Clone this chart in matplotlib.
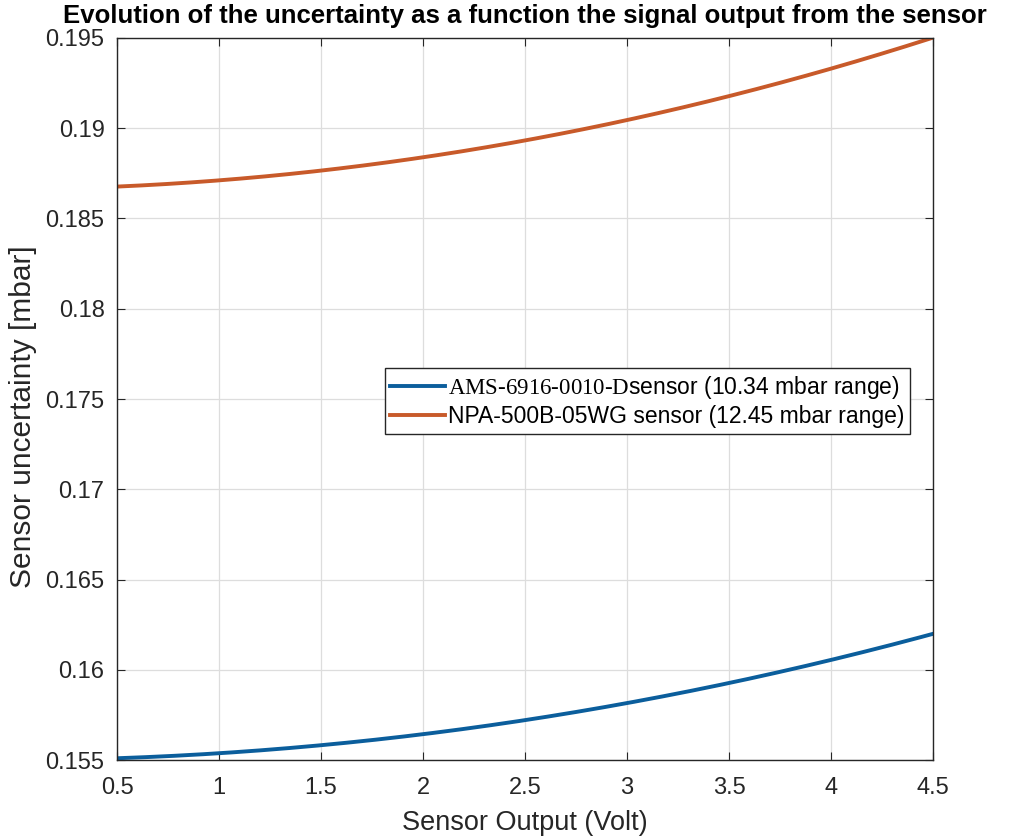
import matplotlib.pyplot as plt
import numpy as np

plt.rcParams['font.family'] = ['Liberation Sans', 'DejaVu Sans']
plt.rcParams['mathtext.fontset'] = 'custom'
plt.rcParams['mathtext.rm'] = 'Liberation Serif'

volts = [0.5, 1.0, 1.5, 2.0, 2.5, 3.0, 3.5, 4.0, 4.5]
ams_unc = [0.1551, 0.1554, 0.1558, 0.1564, 0.1572, 0.1582, 0.1593, 0.1605, 0.1620]
npa_unc = [0.1868, 0.1871, 0.1876, 0.1884, 0.1893, 0.1905, 0.1918, 0.1933, 0.1950]

ams_label = r'$\mathrm{AMS\text{-}6916\text{-}0010\text{-}D}$sensor (10.34 mbar range)'
npa_label = 'NPA-500B-05WG sensor (12.45 mbar range)'

# smooth the few read-off points with a quadratic fit for drawing
xs = np.linspace(0.5, 4.5, 200)
ams_fit = np.polyval(np.polyfit(volts, ams_unc, 2), xs)
npa_fit = np.polyval(np.polyfit(volts, npa_unc, 2), xs)

fig = plt.figure(figsize=(10.24, 8.4), dpi=100)
ax = fig.add_axes([0.1143, 0.0952, 0.7969, 0.8596])

ax.plot(xs, ams_fit, color='#0B5E9C', lw=2.8, label=ams_label)
ax.plot(xs, npa_fit, color='#C85A2A', lw=2.8, label=npa_label)

ax.set_xlim(0.5, 4.5)
ax.set_ylim(0.155, 0.195)
ax.set_xticks(np.arange(0.5, 4.51, 0.5))
ax.set_xticklabels(['0.5', '1', '1.5', '2', '2.5', '3', '3.5', '4', '4.5'])
ax.set_yticks(np.arange(0.155, 0.1951, 0.005))
ax.set_yticklabels(['0.155', '0.16', '0.165', '0.17', '0.175', '0.18', '0.185', '0.19', '0.195'])
ax.tick_params(direction='in', top=True, right=True, labelsize=17, length=6,
               color='#262626', labelcolor='#262626')
ax.tick_params(axis='x', pad=12)
ax.tick_params(axis='y', pad=9)
ax.grid(True, color='#dddddd', lw=0.9)
for s in ax.spines.values():
    s.set_color('#262626')
    s.set_linewidth(1.0)

ax.set_xlabel('Sensor Output (Volt)', fontsize=19.5, color='#262626', labelpad=8)
ax.set_ylabel('Sensor uncertainty [mbar]', fontsize=21.5, color='#262626')
ax.yaxis.set_label_coords(-0.098, 0.476)
ax.set_title('Evolution of the uncertainty as a function the signal output from the sensor',
             fontsize=18.5, fontweight='bold', pad=11)

leg = ax.legend(loc='upper left', bbox_to_anchor=(0.328, 0.543), fontsize=16.5,
                fancybox=False, edgecolor='#262626', framealpha=1,
                handlelength=2.4, handletextpad=0.1, borderpad=0.25, labelspacing=0.2,
                borderaxespad=0)
leg.get_frame().set_linewidth(1.0)

fig.savefig('out.png', dpi=100)
